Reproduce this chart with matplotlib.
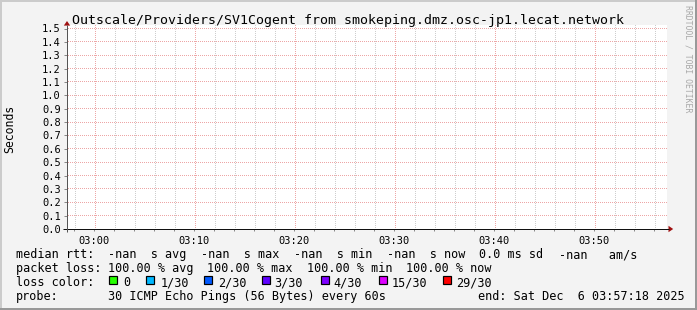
import numpy as np
import matplotlib
matplotlib.use("Agg")
import matplotlib.pyplot as plt
from matplotlib.patches import Rectangle, Polygon
from matplotlib.transforms import IdentityTransform

# ---------------- data ----------------
title = "Outscale/Providers/SV1Cogent from smokeping.dmz.osc-jp1.lecat.network"
y_label = "Seconds"
y_ticks = [0.0, 0.1, 0.2, 0.3, 0.4, 0.5, 0.6, 0.7, 0.8, 0.9, 1.0, 1.1, 1.2, 1.3, 1.4, 1.5]
# time axis in minutes relative to 03:00 (02:57:18 -> 03:57:18)
x_start, x_end = -2.7, 57.3
x_major = [0, 10, 20, 30, 40, 50]
x_tick_labels = ["03:00", "03:10", "03:20", "03:30", "03:40", "03:50"]
x_minor_step = 2
# median rtt: all probes lost -> no values
median_time = []
median_rtt = []

legend_line1 = ["median rtt:", "-nan  s avg", "-nan  s max", "-nan  s min",
                "-nan  s now", "0.0 ms sd", "-nan   am/s"]
legend_line2 = ["packet loss:", "100.00 % avg", "100.00 % max", "100.00 % min", "100.00 % now"]
loss_labels = ["0", "1/30", "2/30", "3/30", "4/30", "15/30", "29/30"]
loss_colors = ["#26ff00", "#00b8ff", "#0059ff", "#5e00ff", "#7e00ff", "#dd00ff", "#ff0000"]
probe_text = "30 ICMP Echo Pings (56 Bytes) every 60s"
end_text = "end: Sat Dec  6 03:57:18 2025"
watermark = "RRDTOOL / TOBI OETIKER"

# ---------------- layout (pixels) ----------------
W, H, DPI = 697, 310, 100
X0, X1 = 67, 667            # canvas left/right
Y0, YT = 229, 25            # canvas bottom / top
Y15 = 28.5                  # pixel of 1.5
ytop = 1.5 * (Y0 - YT) / (Y0 - Y15)

MONO = "DejaVu Sans Mono"
BG = "#F3F3F3"
MGRID = "#EDA6A6"
GRID = "#CDCDCD"

fig = plt.figure(figsize=(W / DPI, H / DPI), dpi=DPI, facecolor=BG)
ax = fig.add_axes([X0 / W, (H - Y0) / H, (X1 - X0) / W, (Y0 - YT) / H])
ax.set_facecolor("white")
ax.set_xlim(x_start, x_end)
ax.set_ylim(0, ytop)
for s in ax.spines.values():
    s.set_visible(False)

px = 72.0 / DPI  # points per pixel

# ---- dotted grid drawn as single pixels (1 on / 1 off), positioned via the axes scales
minor_x = np.arange(np.ceil(x_start / x_minor_step) * x_minor_step, x_end, x_minor_step)
bl = ax.transAxes.transform((0, 0))
tr = ax.transAxes.transform((1, 1))
xs_px = np.arange(np.floor(bl[0]), np.ceil(tr[0]), 2) + 0.5
ys_px = np.arange(np.floor(bl[1]) + 1, np.ceil(tr[1]), 2) + 0.5


def vline(xval, color, z):
    xd = ax.transData.transform((xval, 0))[0]
    xc = np.floor(xd) + 0.5
    ax.plot(np.full_like(ys_px, xc), ys_px, ls="none", marker=",", color=color,
            transform=IdentityTransform(), zorder=z, clip_on=False)


def hline(yval, color, z):
    yd = ax.transData.transform((0, yval))[1]
    yc = np.floor(yd) + 0.5
    ax.plot(xs_px, np.full_like(xs_px, yc), ls="none", marker=",", color=color,
            transform=IdentityTransform(), zorder=z, clip_on=False)


for m in minor_x:
    if m in x_major:
        continue
    vline(m, GRID, 1)
for m in x_major:
    vline(m, MGRID, 2)
for v in y_ticks[1:]:
    hline(v, MGRID, 2)

ax.plot(median_time, median_rtt, color="#00a000")

ax.set_xticks(x_major)
ax.set_xticklabels(x_tick_labels, family=MONO, fontsize=7.5)
ax.set_xticks(minor_x, minor=True)
ax.set_yticks(y_ticks)
ax.set_yticklabels([f"{v:.1f}" for v in y_ticks], family=MONO, fontsize=7.5)
ax.tick_params(axis="x", which="both", length=2 * px, width=px, color="#888888", pad=3.3)
ax.tick_params(axis="y", which="both", length=3 * px, width=px, color="#888888", pad=2.3)

# ---------------- overlay in pixel coords ----------------
ov = fig.add_axes([0, 0, 1, 1], facecolor="none")
ov.set_xlim(0, W)
ov.set_ylim(H, 0)
ov.axis("off")

# frame shading
ov.add_patch(Rectangle((0, 0), W, 2, color="#CBCBCB", lw=0))
ov.add_patch(Rectangle((0, 0), 2, H, color="#CBCBCB", lw=0))
ov.add_patch(Rectangle((0, H - 2), W, 2, color="#999999", lw=0))
ov.add_patch(Rectangle((W - 2, 0), 2, H, color="#999999", lw=0))

# axes lines and arrows
ov.plot([X0 - 4, X1 + 2], [Y0, Y0], color="#111111", lw=px, solid_capstyle="butt")
ov.plot([X0, X0], [Y0 + 3, YT], color="#555555", lw=px, solid_capstyle="butt")
ov.add_patch(Polygon([[X1 + 1.5, Y0 - 3.2], [X1 + 1.5, Y0 + 3.2], [X1 + 6.2, Y0]],
                     closed=True, color="#A01010", lw=0))
ov.add_patch(Polygon([[X0 - 3.2, YT + 0.6], [X0 + 3.2, YT + 0.6], [X0, YT - 4]],
                     closed=True, color="#A01010", lw=0))

# title / labels
ov.text(W / 2 - 1, 24, title, family=MONO, fontsize=9.55, ha="center", va="baseline")
ov.text(10, (Y0 + Y15) / 2, y_label, family=MONO, fontsize=8.3, rotation=90,
        ha="center", va="center")
ov.text(688, 5, watermark, family=MONO, fontsize=5.9, rotation=270,
        ha="center", va="top", color="#A8A8A8")

# legend
LFS = 8.5
base = [258, 272, 286, 300]
x1 = [16, 108, 201, 294, 387, 479, 559]
for t, x in zip(legend_line1, x1):
    ov.text(x, base[0], t, family=MONO, fontsize=LFS, ha="left", va="baseline")
x2 = [16, 107.5, 207, 307, 406.5]
for t, x in zip(legend_line2, x2):
    ov.text(x, base[1], t, family=MONO, fontsize=LFS, ha="left", va="baseline")

ov.text(16, base[2], "loss color:", family=MONO, fontsize=LFS, ha="left", va="baseline")
box_x = [109, 146, 203.5, 262, 320.5, 379, 442.5]
lab_x = [123, 160.5, 218, 274.5, 333, 392, 456.5]
for bx, lx, lab, col in zip(box_x, lab_x, loss_labels, loss_colors):
    ov.add_patch(Rectangle((bx, 276), 8, 8, facecolor=col, edgecolor="black", lw=px * 1.2))
    ov.text(lx, base[2], lab, family=MONO, fontsize=LFS, ha="left", va="baseline")

ov.text(16, base[3], "probe:", family=MONO, fontsize=LFS, ha="left", va="baseline")
ov.text(107.5, base[3], probe_text, family=MONO, fontsize=LFS, ha="left", va="baseline")
ov.text(478.3, base[3], end_text, family=MONO, fontsize=LFS, ha="left", va="baseline")

fig.savefig("out.png", dpi=DPI, facecolor=BG)
